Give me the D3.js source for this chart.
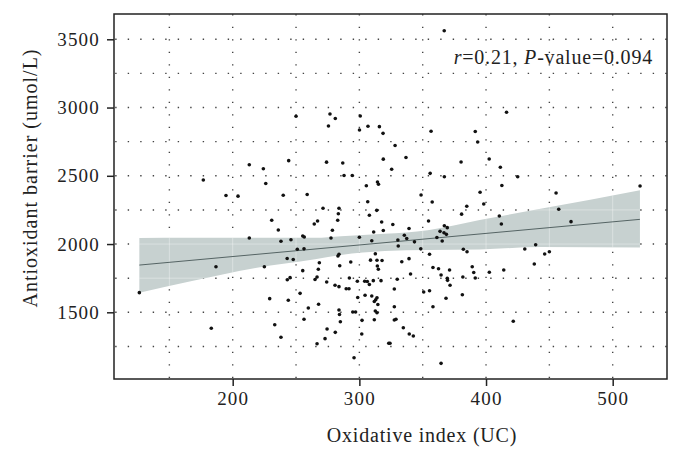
<!DOCTYPE html>
<html><head><meta charset="utf-8">
<script src="https://cdn.jsdelivr.net/npm/d3@7/dist/d3.min.js"></script>
<style>body{margin:0;background:#fff}svg{display:block}</style>
</head><body>
<svg id="chart" width="682" height="460"></svg>
<script>
// ---- data ----
const oxidativeIndex = [367,250,276.8,281,275.6,300.7,300.1,306.8,315.8,318.7,356.6,391.5,416.2,328.2,393.4,244.2,274.1,286.9,213.1,224.2,318.9,336.8,380.3,402.5,176.8,226.1,287.9,294.4,305.5,325.5,411.3,355.9,367.1,425,314.3,315.1,412.5,521.6,194.7,204.2,239.9,258.8,348.7,395.3,455.3,306.6,271.3,283.9,313.7,283.4,307.9,267,264.4,282.9,230.8,236,255.3,256.5,238.1,246,251,256.3,243,247.8,213.1,186.8,126.3,225,318.9,311.3,278.7,277.6,300,309.8,283.9,283.1,312.6,308.8,313.9,317.9,357.5,384.8,380.7,317.6,326.4,354.6,339.2,367.1,369.4,363.7,366.8,368.7,335.5,337.4,330.4,361.2,365.4,343.5,330.7,348.5,382.1,385,355.4,339.2,333.5,398.2,457.4,467.1,410.5,412.1,430.6,439.2,446.3,450,438.1,421.5,268.4,255.3,267.6,266.6,243.1,245.3,253.2,229.2,243.9,267.8,259.7,256.3,233.2,238.1,266.6,293.2,284.5,314.2,315,265,292.1,274.2,304.2,306.3,307.9,298.4,311,280.8,283.9,289.6,291.8,298.7,304.5,309.8,312.9,313.9,311.8,314.6,283.9,284.3,294.8,297,312.6,313.9,285,302.1,311.8,274.5,281,301.9,272.9,295.8,324.2,323.2,334.7,339.4,342.6,364.5,327.6,328.9,327.6,358.1,350.8,355.4,327.6,368.4,381.3,329.9,317.1,340.4,358.1,362.5,371.2,389.1,390.3,391.5,364.5,369.4,369.6,381.7,371.6,402.6,414,183.1];
const antioxidantBarrier = [3563,2936,2953,2920,2865,2938,2835,2863,2860,2811,2826,2825,2966,2722,2748,2611,2600,2594,2581,2552,2622,2634,2601,2623,2469,2444,2502,2502,2427,2548,2563,2518,2493,2493,2455,2438,2429,2425,2356,2351,2357,2363,2359,2380,2374,2310,2262,2262,2247,2222,2211,2169,2147,2174,2174,2103,2059,2052,2020,2031,1962,1965,1894,1887,2044,1834,1644,1834,2099,2088,2101,2044,2050,2024,1925,1912,1929,1882,1881,1880,2308,2277,2219,2162,2143,2169,2114,2134,2120,2093,2083,2071,2064,2041,2030,2048,2022,2016,1986,1965,1962,1944,1925,1893,1870,2293,2255,2164,2206,2147,1964,1995,1927,1944,1854,1434,1863,1805,1815,1759,1739,1754,1639,1600,1588,1559,1532,1449,1409,1317,1270,1869,1841,1839,1815,1740,1751,1722,1727,1726,1704,1727,1732,1698,1688,1673,1673,1608,1625,1619,1592,1607,1579,1557,1517,1484,1502,1502,1510,1497,1431,1441,1446,1378,1353,1341,1307,1167,1273,1273,1387,1341,1326,1126,1444,1449,1541,1541,1649,1658,1671,1603,1629,1742,1732,1781,1828,1819,1810,1834,1792,1751,1773,1749,1734,1759,1698,1793,1810,1383];
const fitX = [126.3, 521.5];
const fitY = [1846, 2181];
const bandX  = [126.3, 166, 218, 265, 285.5, 320, 354, 395, 443, 521.5];
const bandLo = [1644, 1725, 1824, 1888, 1920, 1949, 1957, 1961, 1978, 1974];
const bandHi = [2044, 2046, 2046, 2046, 2058, 2075, 2102, 2176, 2258, 2395];
const xTicks = [200, 300, 400, 500];
const yTicks = [1500, 2000, 2500, 3000, 3500];
const xGrid = [150, 200, 250, 300, 350, 400, 450, 500];
const yGrid = [1250, 1500, 1750, 2000, 2250, 2500, 2750, 3000, 3250, 3500];
const annotation = {r: "0.21", p: "0.094"};
const xTitle = "Oxidative index (UC)";
const yTitle = "Antioxidant barrier (umol/L)";

// ---- layout ----
const L = 114, R = 667, T = 14, B = 379;
const FONT = "'Liberation Serif', 'Times New Roman', serif";
const svg = d3.select("#chart");
const x = d3.scaleLinear().domain([106.29, 542.87]).range([L, R]);
const y = d3.scaleLinear().domain([1011.4, 3685.3]).range([B, T]);

// dotted grid
const grid = svg.append("g");
grid.selectAll("line.h").data(yGrid).join("line")
  .attr("x1", L).attr("x2", R).attr("y1", d => y(d)).attr("y2", d => y(d))
  .attr("stroke", "#444").attr("stroke-width", 1.4)
  .attr("stroke-dasharray", "1.4 11.1").attr("stroke-dashoffset", -1.2);
grid.selectAll("line.v").data(xGrid).join("line")
  .attr("y1", T).attr("y2", B).attr("x1", d => x(d)).attr("x2", d => x(d))
  .attr("stroke", "#444").attr("stroke-width", 1.4)
  .attr("stroke-dasharray", "1.4 11.1").attr("stroke-dashoffset", -0.2);

// confidence band
const bandData = bandX.map((v, i) => ({x: v, lo: bandLo[i], hi: bandHi[i]}));
const area = d3.area().x(d => x(d.x)).y0(d => y(d.lo)).y1(d => y(d.hi)).curve(d3.curveMonotoneX);
svg.append("clipPath").attr("id", "bandclip").append("path").attr("d", area(bandData));
svg.append("path").attr("d", area(bandData)).attr("fill", "#c7d1d0");
// faint lighter grid lines visible inside the band
const faint = svg.append("g").attr("clip-path", "url(#bandclip)");
faint.selectAll("line.h").data(yGrid).join("line")
  .attr("x1", L).attr("x2", R).attr("y1", d => y(d)).attr("y2", d => y(d))
  .attr("stroke", "#fff").attr("stroke-opacity", 0.35).attr("stroke-width", 1);
faint.selectAll("line.v").data(xGrid).join("line")
  .attr("y1", T).attr("y2", B).attr("x1", d => x(d)).attr("x2", d => x(d))
  .attr("stroke", "#fff").attr("stroke-opacity", 0.35).attr("stroke-width", 1);

// fit line
svg.append("path")
  .attr("d", d3.line().x(d => x(d[0])).y(d => y(d[1]))(fitX.map((v, i) => [v, fitY[i]])))
  .attr("stroke", "#556464").attr("stroke-width", 1).attr("fill", "none");

// points
svg.append("g").selectAll("circle").data(oxidativeIndex.map((v, i) => [v, antioxidantBarrier[i]])).join("circle")
  .attr("cx", d => x(d[0])).attr("cy", d => y(d[1])).attr("r", 1.8).attr("fill", "#111");

// frame
svg.append("rect").attr("x", L).attr("y", T).attr("width", R - L).attr("height", B - T)
  .attr("fill", "none").attr("stroke", "#222").attr("stroke-width", 1.5);

// axes
const xAxis = svg.append("g").attr("transform", `translate(0,${B})`)
  .call(d3.axisBottom(x).tickValues(xTicks).tickSize(7).tickPadding(5).tickFormat(d3.format("d")));
const yAxis = svg.append("g").attr("transform", `translate(${L},0)`)
  .call(d3.axisLeft(y).tickValues(yTicks).tickSize(7).tickPadding(7).tickFormat(d3.format("d")));
[xAxis, yAxis].forEach(a => {
  a.select(".domain").remove();
  a.selectAll(".tick line").attr("stroke", "#222").attr("stroke-width", 1.5);
  a.selectAll(".tick text").attr("font-family", FONT).attr("font-size", 19)
    .attr("fill", "#222").style("letter-spacing", "1.2px");
});
xAxis.selectAll(".tick text").attr("dy", "0.75em").attr("y", 12);

// axis titles
svg.append("text").attr("x", 422).attr("y", 442).attr("text-anchor", "middle")
  .attr("font-family", FONT).attr("font-size", 20).attr("fill", "#222")
  .style("letter-spacing", "0.8px").text(xTitle);
svg.append("text").attr("transform", "translate(37,178) rotate(-90)").attr("text-anchor", "middle")
  .attr("font-family", FONT).attr("font-size", 20).attr("fill", "#222")
  .style("letter-spacing", "1px").text(yTitle);

// annotation
const ann = svg.append("text").attr("x", 653).attr("y", 64).attr("text-anchor", "end")
  .attr("font-family", FONT).attr("font-size", 20).attr("fill", "#222").style("letter-spacing", "0.8px");
ann.append("tspan").attr("font-style", "italic").text("r");
ann.append("tspan").text("=" + annotation.r + ", ");
ann.append("tspan").attr("font-style", "italic").text("P");
ann.append("tspan").text("-value=" + annotation.p);
</script>
</body></html>
